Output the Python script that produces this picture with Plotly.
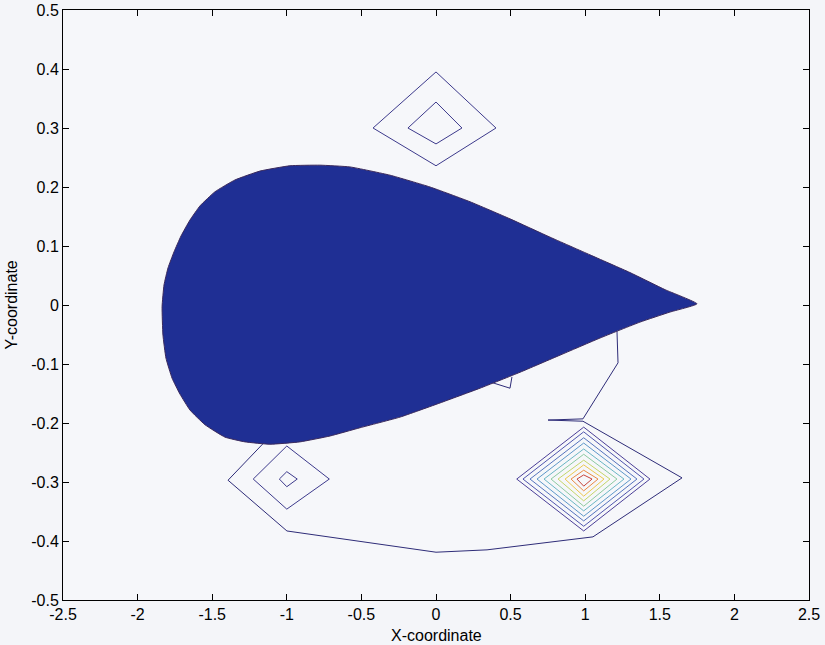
import plotly.graph_objects as go

# --- body outline (upper surface leading edge -> tip, lower surface tip -> leading edge)
body_upper_x = [-1.836, -1.823, -1.796, -1.756, -1.709, -1.649, -1.582, -1.481, -1.347, -1.180,
                -0.979, -0.778, -0.576, -0.308, -0.040, 0.228, 0.496, 0.764, 1.032, 1.300, 1.535, 1.749]
body_upper_y = [-0.003, 0.034, 0.063, 0.090, 0.117, 0.144, 0.168, 0.192, 0.212, 0.227,
                0.236, 0.237, 0.234, 0.220, 0.200, 0.175, 0.146, 0.115, 0.085, 0.055, 0.026, 0.002]
body_lower_x = [1.568, 1.367, 1.099, 0.831, 0.563, 0.295, 0.027, -0.241, -0.509, -0.710,
                -0.912, -1.113, -1.280, -1.414, -1.548, -1.649, -1.716, -1.769, -1.810, -1.830, -1.836]
body_lower_y = [-0.012, -0.029, -0.056, -0.085, -0.114, -0.141, -0.166, -0.190, -0.208, -0.222,
                -0.232, -0.236, -0.232, -0.224, -0.203, -0.178, -0.151, -0.124, -0.090, -0.051, -0.003]

# --- lowest contour level: long open line wrapping under the body, plus a small wedge
outer_x = [1.213, 1.220, 0.985, 0.751, 0.985, 1.649, 1.052, 0.342, 0.000, -0.999, -1.394, -1.110]
outer_y = [-0.044, -0.098, -0.193, -0.195, -0.197, -0.293, -0.393, -0.415, -0.419, -0.383, -0.297, -0.222]
wedge_x = [0.382, 0.496, 0.509]
wedge_y = [-0.132, -0.141, -0.122]

# --- closed diamond contours: (left x, right x, bottom y, top y, centre x, centre y)
top_left = [-0.422, -0.188]
top_right = [0.402, 0.174]
top_bottom = [0.236, 0.273]
top_top = [0.395, 0.344]
top_cx, top_cy = 0.0, 0.300

low_left = [-1.225, -1.050]
low_right = [-0.715, -0.930]
low_bottom = [-0.346, -0.308]
low_top = [-0.239, -0.2825]
low_cx, low_cy = -1.0, -0.295

peak_left = [0.541, 0.583, 0.630, 0.677, 0.724, 0.771, 0.818, 0.865, 0.905, 0.945]
peak_right = [1.434, 1.394, 1.347, 1.307, 1.260, 1.213, 1.166, 1.126, 1.086, 1.046]
peak_bottom = [-0.383, -0.375, -0.366, -0.358, -0.349, -0.341, -0.332, -0.324, -0.315, -0.307]
peak_top = [-0.207, -0.215, -0.225, -0.234, -0.244, -0.253, -0.263, -0.271, -0.280, -0.288]
peak_cx, peak_cy = 0.99, -0.295
peak_colors = ["#4b3f98", "#4f55ad", "#5573bd", "#5e97c9", "#6bb6c4", "#8ccaa0",
               "#c4d66a", "#ecc84e", "#e98a44", "#c8433a"]

x_tickvals = [-2.5, -2, -1.5, -1, -0.5, 0, 0.5, 1, 1.5, 2, 2.5]
x_ticktext = ["-2.5", "-2", "-1.5", "-1", "-0.5", "0", "0.5", "1", "1.5", "2", "2.5"]
y_tickvals = [-0.5, -0.4, -0.3, -0.2, -0.1, 0, 0.1, 0.2, 0.3, 0.4, 0.5]
y_ticktext = ["-0.5", "-0.4", "-0.3", "-0.2", "-0.1", "0", "0.1", "0.2", "0.3", "0.4", "0.5"]

LOW_COLOR = "#3d3a8c"
FONT = "Liberation Sans"

fig = go.Figure()


def diamond(left, right, bottom, top, cx, cy, color):
    fig.add_trace(go.Scatter(
        x=[left, cx, right, cx, left],
        y=[cy, top, cy, bottom, cy],
        mode="lines", line=dict(color=color, width=1),
        hoverinfo="skip", showlegend=False))


for i in range(len(top_left)):
    diamond(top_left[i], top_right[i], top_bottom[i], top_top[i], top_cx, top_cy, LOW_COLOR)
for i in range(len(low_left)):
    diamond(low_left[i], low_right[i], low_bottom[i], low_top[i], low_cx, low_cy, LOW_COLOR)
for i in range(len(peak_left)):
    diamond(peak_left[i], peak_right[i], peak_bottom[i], peak_top[i], peak_cx, peak_cy, peak_colors[i])

fig.add_trace(go.Scatter(x=outer_x, y=outer_y, mode="lines",
                         line=dict(color="#2e2c78", width=1), showlegend=False, hoverinfo="skip"))
fig.add_trace(go.Scatter(x=wedge_x, y=wedge_y, mode="lines",
                         line=dict(color="#2e2c78", width=1), showlegend=False, hoverinfo="skip"))

# filled body drawn last so it masks the contour ends
fig.add_trace(go.Scatter(
    x=body_upper_x + body_lower_x, y=body_upper_y + body_lower_y,
    mode="lines", fill="toself", fillcolor="#1f2f94",
    line=dict(color="#3b2a5c", width=1, shape="spline", smoothing=0.4),
    showlegend=False, hoverinfo="skip"))

axis_common = dict(showline=True, linecolor="black", linewidth=1, mirror="ticks",
                   ticks="inside", ticklen=6, tickcolor="black", showgrid=False,
                   zeroline=False, automargin=False,
                   tickfont=dict(family=FONT, size=16, color="black"))

fig.update_layout(
    width=825, height=645,
    margin=dict(l=63, r=16, t=10, b=45, autoexpand=False),
    paper_bgcolor="#f4f5f9", plot_bgcolor="#f6f7fa",
    xaxis=dict(range=[-2.5, 2.5], tickvals=x_tickvals, ticktext=x_ticktext, **axis_common),
    yaxis=dict(range=[-0.5, 0.5], tickvals=y_tickvals, ticktext=y_ticktext, **axis_common),
    annotations=[
        dict(text="X-coordinate", xref="paper", yref="paper", x=0.5, y=0,
             xanchor="center", yanchor="top", yshift=-25, showarrow=False,
             font=dict(family=FONT, size=16, color="black")),
        dict(text="Y-coordinate", xref="paper", yref="paper", x=0, y=0.5,
             xanchor="right", yanchor="middle", xshift=-42, textangle=-90, showarrow=False,
             font=dict(family=FONT, size=16, color="black")),
    ],
)

fig.write_html("out.html")
